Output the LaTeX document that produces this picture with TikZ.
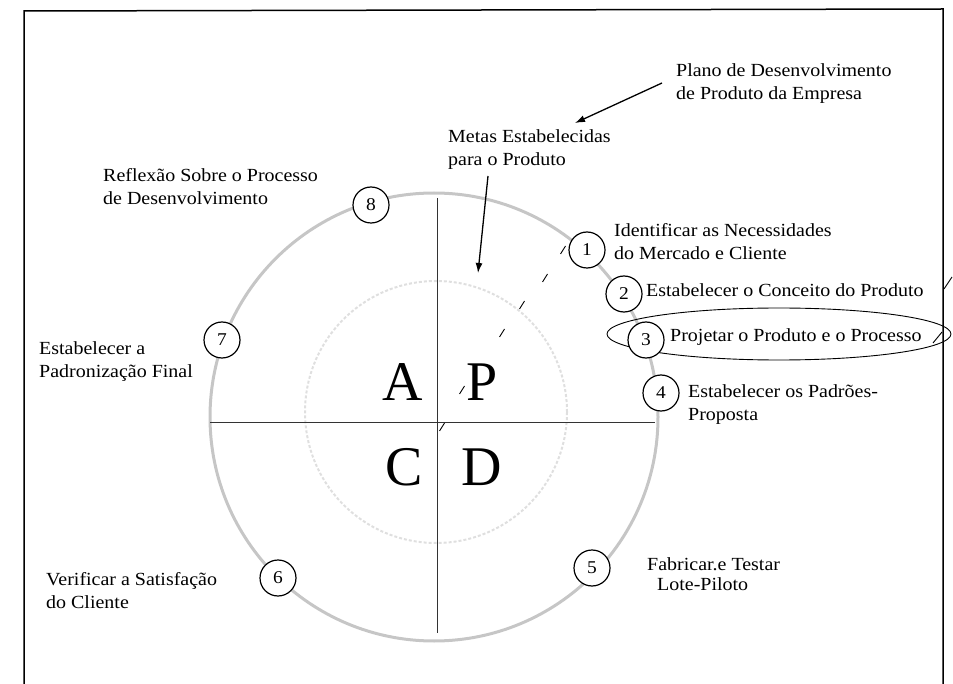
\documentclass[tikz,border=0pt]{standalone}
\usepackage{fontspec}
\setmainfont{Liberation Serif}
\newfontfamily\lblfont{Liberation Serif}[FakeStretch=1.08]
\usetikzlibrary{arrows.meta}
\newcommand\mylines[2]{\vtop{\hbox{#1}\hbox{#2}}}
\tikzset{
  lbl/.style={inner sep=0pt, anchor=base west, font=\lblfont\fontsize{18.5}{23}\selectfont},
  numc/.style={circle, draw, line width=1.2pt, fill=white, minimum size=36pt, inner sep=0pt, font=\lblfont\fontsize{18}{20}\selectfont},
  bigl/.style={inner sep=0pt, font=\fontsize{56}{60}\selectfont},
  frame/.style={line width=1.5pt},
  axis/.style={line width=1pt, black!80},
  ring/.style={line width=3pt, gray!45},
  inring/.style={line width=2pt, gray!25, dash pattern=on 3pt off 2pt},
  arr/.style={line width=1.3pt, -{Latex[length=10pt,width=7pt]}},
  tick/.style={line width=0.9pt},
}
\begin{document}
\begin{tikzpicture}[x=1pt,y=-1pt]
\useasboundingbox (0,0) rectangle (953,684);
% frame
\draw[frame] (24,684) -- (24,11) -- (943,9) -- (943,684);
% rings
\draw[ring] (434,417) circle[radius=224pt];
\draw[inring] (436,412) circle[radius=131pt];
% axes
\coordinate (hl) at (210,422);
\coordinate (hr) at (655,422);
\coordinate (vt) at (437,198);
\coordinate (vb) at (437,633);
\draw[axis] (hl) -- (hr);
\draw[axis] (vt) -- (vb);
% big letters
\node[bigl, anchor=base east] (A) at (423,400) {A};
\node[bigl, anchor=base west] (P) at (466,400) {P};
\node[bigl, anchor=base east] (C) at (423,485) {C};
\node[bigl, anchor=base west] (D) at (461,485) {D};
% ellipse around step 3
\draw[line width=0.9pt] (779,334) ellipse[x radius=172pt, y radius=26pt];
% numbered circles
\node[numc] (c1) at (587,250) {1};
\node[numc] (c2) at (624,294) {2};
\node[numc] (c3) at (646,340) {3};
\node[numc] (c4) at (661,393) {4};
\node[numc] (c5) at (592,568) {5};
\node[numc] (c6) at (278,578) {6};
\node[numc] (c7) at (222,340) {7};
\node[numc] (c8) at (371,205) {8};
% labels
\node[lbl] (plano) at (676,77) {\mylines{Plano de Desenvolvimento}{de Produto da Empresa}};
\node[lbl] (metas) at (448,143) {\mylines{Metas Estabelecidas}{para o Produto}};
\node[lbl] (t8) at (103,182) {\mylines{Reflexão Sobre o Processo}{de Desenvolvimento}};
\node[lbl] (t1) at (614,237) {\mylines{Identificar as Necessidades}{do Mercado e Cliente}};
\node[lbl] (t2) at (646,297) {Estabelecer o Conceito do Produto};
\node[lbl] (t3) at (670,342) {Projetar o Produto e o Processo};
\node[lbl] (t4) at (688,398) {\mylines{Estabelecer os Padrões-}{Proposta}};
\node[lbl, font=\lblfont\fontsize{18.5}{20.5}\selectfont] (t5) at (647,570) {\mylines{Fabricar.e Testar}{\hspace*{10pt}Lote-Piloto}};
\node[lbl] (t6) at (46,585) {\mylines{Verificar a Satisfação}{do Cliente}};
\node[lbl] (t7) at (39,355) {\mylines{Estabelecer a}{Padronização Final}};
% arrows
\coordinate (a1s) at (662,83);
\coordinate (a1e) at (575,123);
\coordinate (a2s) at (488,176);
\coordinate (a2e) at (478,273);
\draw[arr] (a1s) -- (a1e);
\draw[arr] (a2s) -- (a2e);
% stray ticks
\foreach \x/\y in {563/250, 545/278, 522/305, 502/333, 462/390, 442/427} {
  \draw[tick] (\x-2.5,\y+4) -- (\x+2.5,\y-4);
}
\draw[tick] (944,289) -- (952,277);
\draw[tick] (933,343) -- (942,332);
\end{tikzpicture}
\end{document}
